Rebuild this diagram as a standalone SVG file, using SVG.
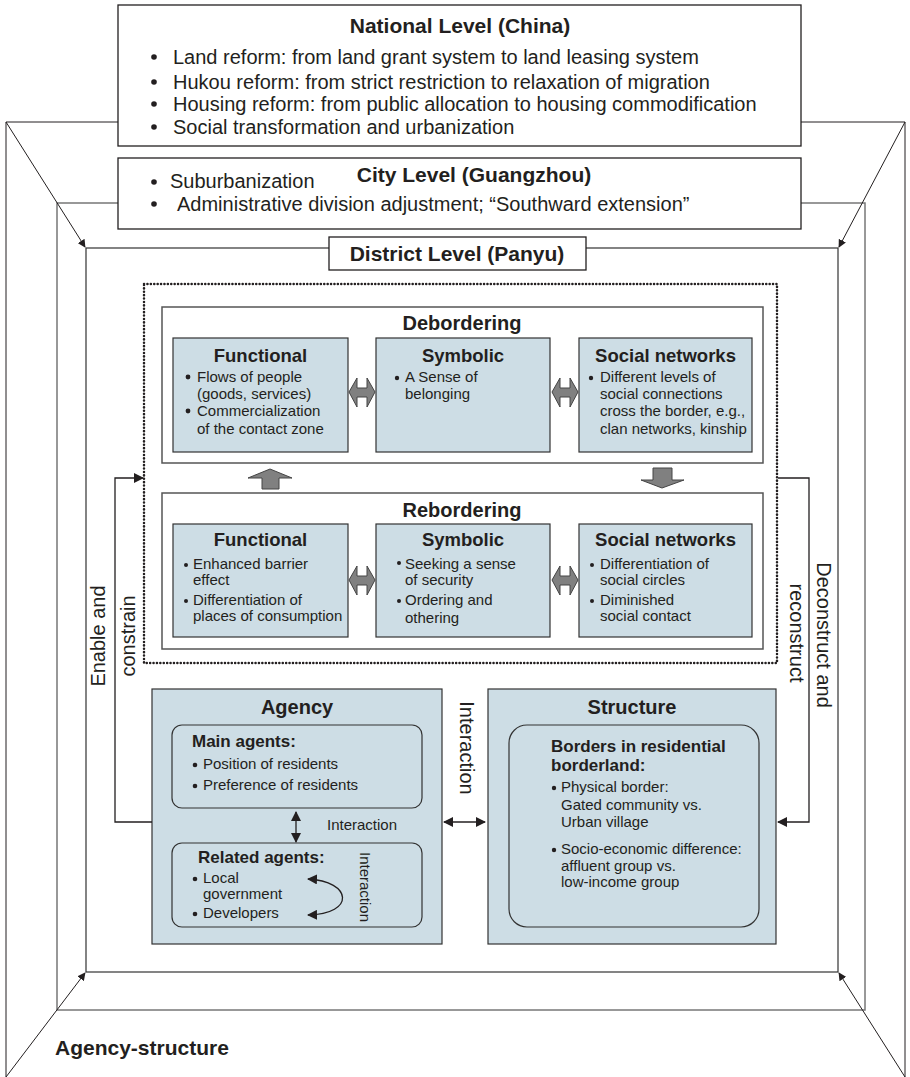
<svg xmlns="http://www.w3.org/2000/svg" width="910" height="1077" viewBox="0 0 910 1077">
<style>
text{font-family:"Liberation Sans",Arial,sans-serif;fill:#231f20}
.b{font-weight:bold}
.t21{font-size:21px}
.t20{font-size:20px}
.t18{font-size:18.5px}
.t17{font-size:17px}
.t15{font-size:15px}
.m{text-anchor:middle}
.box{fill:#fff;stroke:#231f20;stroke-width:1.3}
.grp{fill:#fff;stroke:#555;stroke-width:1.5}
.sub{fill:#cddde5;stroke:#333;stroke-width:1.2}
.rnd{fill:none;stroke:#333;stroke-width:1.2}
.ln{fill:none;stroke:#231f20;stroke-width:1.3}
.thin{fill:none;stroke:#231f20;stroke-width:1}
.dot{fill:#231f20}
.garrow{fill:#808080;stroke:#444;stroke-width:1}
</style>
<defs>
<marker id="ah" viewBox="0 0 10 10" refX="9" refY="5" markerWidth="8" markerHeight="8" markerUnits="userSpaceOnUse" orient="auto-start-reverse">
<path d="M0,0 L10,5 L0,10 z" fill="#231f20"/>
</marker>
<marker id="ahb" viewBox="0 0 10 10" refX="9" refY="5" markerWidth="10" markerHeight="10" markerUnits="userSpaceOnUse" orient="auto-start-reverse">
<path d="M0,0 L10,5 L0,10 z" fill="#231f20"/>
</marker>
</defs>
<rect width="910" height="1077" fill="#fff"/>

<g id="frames">
<rect x="57" y="203" width="808" height="807" fill="none" stroke="#777" stroke-width="1.5"/>
<rect x="86" y="248" width="752" height="724" fill="none" stroke="#333" stroke-width="1.2"/>
<polyline class="thin" points="6,1077 6,122 118,122"/>
<polyline class="thin" points="801,122 905,122 905,1077"/>
</g>

<g id="national">
<rect class="box" x="118" y="5" width="683" height="141"/>
<text class="b t21 m" x="460" y="33">National Level (China)</text>
<circle class="dot" cx="154" cy="57" r="2.8"/>
<circle class="dot" cx="154" cy="82" r="2.8"/>
<circle class="dot" cx="154" cy="104" r="2.8"/>
<circle class="dot" cx="154" cy="127" r="2.8"/>
<text class="t20" x="173" y="63.5">Land reform: from land grant system to land leasing system</text>
<text class="t20" x="173" y="88.5">Hukou reform: from strict restriction to relaxation of migration</text>
<text class="t20" x="173" y="110.5">Housing reform: from public allocation to housing commodification</text>
<text class="t20" x="173" y="133.5">Social transformation and urbanization</text>
</g>

<g id="city">
<rect class="box" x="118" y="158" width="683" height="71"/>
<text class="b t21 m" x="474" y="182">City Level (Guangzhou)</text>
<circle class="dot" cx="154" cy="182" r="2.8"/>
<circle class="dot" cx="154" cy="204" r="2.8"/>
<text class="t20" x="170" y="187.5">Suburbanization</text>
<text class="t20" x="177" y="210.5">Administrative division adjustment; “Southward extension”</text>
</g>

<g id="district">
<rect class="box" x="329" y="237" width="257" height="33"/>
<text class="b t21 m" x="457" y="261">District Level (Panyu)</text>
</g>

<g id="dotted-frame">
<rect x="144" y="284" width="633" height="379" fill="none" stroke="#231f20" stroke-width="2.5" stroke-dasharray="0.1 3.3" stroke-linecap="round"/>
</g>

<g id="debordering">
<rect class="grp" x="162" y="307" width="601" height="156"/>
<text class="b t20 m" x="462" y="330">Debordering</text>
</g>
<g id="deb-functional">
<rect class="sub" x="173" y="338" width="175" height="114"/>
<text class="b t18 m" x="260.5" y="362">Functional</text>
<circle class="dot" cx="188" cy="377" r="2.4"/>
<circle class="dot" cx="188" cy="411" r="2.4"/>
<text class="t15" x="197" y="382">Flows of people</text>
<text class="t15" x="197" y="399">(goods, services)</text>
<text class="t15" x="197" y="416">Commercialization</text>
<text class="t15" x="197" y="434">of the contact zone</text>
</g>
<g id="deb-symbolic">
<rect class="sub" x="376" y="338" width="174" height="114"/>
<text class="b t18 m" x="463" y="362">Symbolic</text>
<circle class="dot" cx="397" cy="378" r="2.2"/>
<text class="t15" x="405" y="382">A Sense of</text>
<text class="t15" x="405" y="399">belonging</text>
</g>
<g id="deb-social">
<rect class="sub" x="579" y="338" width="173" height="114"/>
<text class="b t18 m" x="665.5" y="362">Social networks</text>
<circle class="dot" cx="591" cy="378" r="2.2"/>
<text class="t15" x="600" y="382">Different levels of</text>
<text class="t15" x="600" y="399">social connections</text>
<text class="t15" x="600" y="416">cross the border, e.g.,</text>
<text class="t15" x="600" y="434">clan networks, kinship</text>
</g>

<g id="rebordering">
<rect class="grp" x="162" y="493" width="601" height="156"/>
<text class="b t20 m" x="462" y="517">Rebordering</text>
</g>
<g id="reb-functional">
<rect class="sub" x="173" y="524" width="175" height="113"/>
<text class="b t18 m" x="260.5" y="546">Functional</text>
<circle class="dot" cx="186" cy="565" r="2"/>
<circle class="dot" cx="186" cy="601" r="2"/>
<text class="t15" x="193" y="569">Enhanced barrier</text>
<text class="t15" x="193" y="585">effect</text>
<text class="t15" x="193" y="605">Differentiation of</text>
<text class="t15" x="193" y="621">places of consumption</text>
</g>
<g id="reb-symbolic">
<rect class="sub" x="376" y="524" width="174" height="113"/>
<text class="b t18 m" x="463" y="546">Symbolic</text>
<circle class="dot" cx="399" cy="563" r="2"/>
<circle class="dot" cx="399" cy="601" r="2"/>
<text class="t15" x="405" y="569">Seeking a sense</text>
<text class="t15" x="405" y="585">of security</text>
<text class="t15" x="405" y="605">Ordering and</text>
<text class="t15" x="405" y="623">othering</text>
</g>
<g id="reb-social">
<rect class="sub" x="579" y="524" width="173" height="113"/>
<text class="b t18 m" x="665.5" y="546">Social networks</text>
<circle class="dot" cx="592" cy="565" r="2"/>
<circle class="dot" cx="592" cy="601" r="2"/>
<text class="t15" x="600" y="569">Differentiation of</text>
<text class="t15" x="600" y="585">social circles</text>
<text class="t15" x="600" y="605">Diminished</text>
<text class="t15" x="600" y="621">social contact</text>
</g>

<g id="agency">
<rect class="sub" x="152" y="689" width="290" height="255"/>
<text class="b t20 m" x="297" y="714">Agency</text>
</g>
<g id="main-agents">
<rect class="rnd" x="172" y="725" width="250" height="83" rx="10"/>
<text class="b t17" x="192" y="747">Main agents:</text>
<circle class="dot" cx="195" cy="765" r="2.3"/>
<circle class="dot" cx="195" cy="786" r="2.3"/>
<text class="t15" x="203" y="769">Position of residents</text>
<text class="t15" x="203" y="790">Preference of residents</text>
</g>
<g id="related-agents">
<rect class="rnd" x="172" y="843" width="250" height="84" rx="10"/>
<text class="b t17" x="198" y="863">Related agents:</text>
<circle class="dot" cx="195" cy="879" r="2.3"/>
<circle class="dot" cx="195" cy="914" r="2.3"/>
<text class="t15" x="203" y="883">Local</text>
<text class="t15" x="203" y="899">government</text>
<text class="t15" x="203" y="918">Developers</text>
</g>

<g id="structure">
<rect class="sub" x="488" y="689" width="288" height="255"/>
<text class="b t20 m" x="632" y="714">Structure</text>
<rect class="rnd" x="509" y="725" width="250" height="202" rx="18"/>
<text class="b t17" x="551" y="752">Borders in residential</text>
<text class="b t17" x="551" y="771">borderland:</text>
<circle class="dot" cx="554" cy="788" r="2.2"/>
<circle class="dot" cx="554" cy="850" r="2.2"/>
<text class="t15" x="561" y="792">Physical border:</text>
<text class="t15" x="561" y="810">Gated community vs.</text>
<text class="t15" x="561" y="827">Urban village</text>
<text class="t15" x="561" y="854">Socio-economic difference:</text>
<text class="t15" x="561" y="871">affluent group vs.</text>
<text class="t15" x="561" y="887">low-income group</text>
</g>

<g id="connectors">
<line class="thin" x1="6" y1="122" x2="85" y2="247" marker-end="url(#ah)"/>
<line class="thin" x1="905" y1="122" x2="839" y2="247" marker-end="url(#ah)"/>
<line class="thin" x1="6" y1="1077" x2="85" y2="973" marker-end="url(#ah)"/>
<line class="thin" x1="905" y1="1077" x2="839" y2="973" marker-end="url(#ah)"/>
<polyline class="ln" points="152,822 115,822 115,478 143,478" marker-end="url(#ahb)"/>
<polyline class="ln" points="778,478 809,478 809,822 778,822" marker-end="url(#ahb)"/>
<line class="ln" x1="296" y1="812" x2="296" y2="842" stroke-width="2" marker-start="url(#ahb)" marker-end="url(#ahb)"/>
<line class="ln" x1="444" y1="822" x2="485" y2="822" stroke-width="2" marker-start="url(#ahb)" marker-end="url(#ahb)"/>
<path class="ln" d="M308,879 C352,881 356,914 308,915" stroke-width="2" marker-start="url(#ahb)" marker-end="url(#ahb)"/>
<polygon class="garrow" points="270,469 292,478 279,478 279,489 262,489 262,478 248,478"/>
<polygon class="garrow" points="653,468 672,468 672,480 684,480 662,488 641,480 653,480"/>
<polygon class="garrow" points="349,392 357,378 357,388 367,388 367,378 375,392 367,407 367,397 357,397 357,407"/>
<polygon class="garrow" points="552,392 560,378 560,388 570,388 570,378 578,392 570,407 570,397 560,397 560,407"/>
<polygon class="garrow" points="349,580 357,566 357,576 367,576 367,566 375,580 367,595 367,585 357,585 357,595"/>
<polygon class="garrow" points="552,580 560,566 560,576 570,576 570,566 578,580 570,595 570,585 560,585 560,595"/>
</g>

<g id="labels">
<text class="t15" x="327" y="830">Interaction</text>
<text class="t15 m" transform="translate(365,887) rotate(90)" x="0" y="5">Interaction</text>
<text class="t20 m" transform="translate(467,748) rotate(90)" x="0" y="7">Interaction</text>
<text class="t20 m" transform="translate(98,636) rotate(-90)" x="0" y="7">Enable and</text>
<text class="t20 m" transform="translate(128,636) rotate(-90)" x="0" y="7">constrain</text>
<text class="t20 m" transform="translate(824,635) rotate(90)" x="0" y="7">Deconstruct and</text>
<text class="t20 m" transform="translate(797,633) rotate(90)" x="0" y="7">reconstruct</text>
<text class="b t21" x="55" y="1055">Agency-structure</text>
</g>
</svg>
